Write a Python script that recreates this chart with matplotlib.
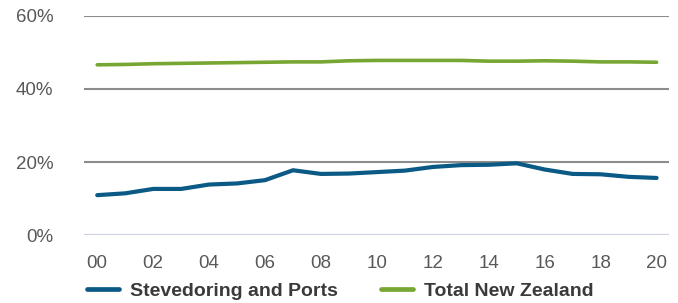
import matplotlib
matplotlib.use("Agg")
import matplotlib.pyplot as plt

# --- Data (share of workforce, %) ---
years = list(range(0, 21))
year_labels = [f"{y:02d}" for y in years]
stevedoring = [11.0, 11.5, 12.7, 12.7, 13.9, 14.2, 15.1, 17.8, 16.8, 16.9, 17.3,
               17.7, 18.7, 19.2, 19.3, 19.7, 18.0, 16.8, 16.7, 16.0, 15.7]
total_nz = [46.6, 46.7, 46.9, 47.0, 47.1, 47.2, 47.3, 47.4, 47.4, 47.7, 47.8,
            47.8, 47.8, 47.8, 47.6, 47.6, 47.7, 47.6, 47.4, 47.4, 47.3]
y_ticks = [0, 20, 40, 60]

plt.rcParams['font.family'] = ['Liberation Sans', 'DejaVu Sans']

fig = plt.figure(figsize=(6.78, 3.03), dpi=100)
ax = fig.add_axes([0.124, 0.223, 0.863, 0.725])

# --- Gridlines ---
for t in y_ticks:
    col = '#c9d0df' if t == 0 else '#8c8c8c'
    ax.axhline(t, color=col, lw=1.5, zorder=1)

ax.plot(years, stevedoring, color='#0b5a85', lw=3.0, solid_capstyle='round',
        solid_joinstyle='round', label='Stevedoring and Ports', zorder=3)
ax.plot(years, total_nz, color='#78a632', lw=2.6, solid_capstyle='round',
        solid_joinstyle='round', label='Total New Zealand', zorder=3)

ax.set_xlim(-0.47, 20.45)
ax.set_ylim(0, 60)
ax.set_yticks(y_ticks)
ax.set_yticklabels([f"{t}%" for t in y_ticks])
ax.set_xticks(years[::2])
ax.set_xticklabels(year_labels[::2])
ax.tick_params(axis='both', length=0, labelsize=13.5, labelcolor='#595959')
ax.tick_params(axis='y', pad=22)
ax.tick_params(axis='x', pad=14)
for s in ax.spines.values():
    s.set_visible(False)

leg = fig.legend(loc='center left', bbox_to_anchor=(0.128, 0.04), ncol=2,
                 frameon=False, borderpad=0, borderaxespad=0,
                 handlelength=1.65, handletextpad=0.57, columnspacing=2.2,
                 prop={'weight': 'bold', 'size': 14})
for txt in leg.get_texts():
    txt.set_color('#3a3a3a')
for h in leg.get_lines():
    h.set_linewidth(3.4)

fig.savefig('out.png', dpi=100)
